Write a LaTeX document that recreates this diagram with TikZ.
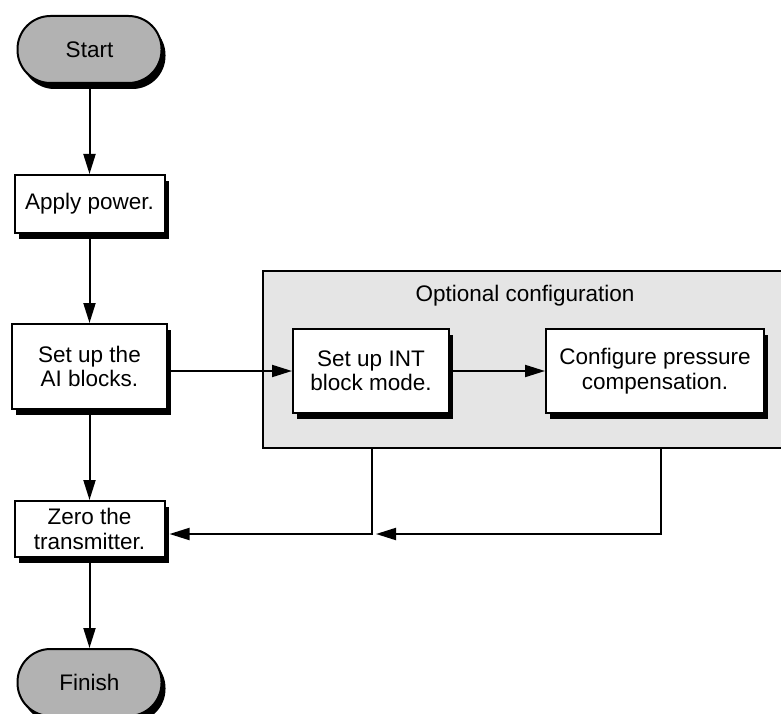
\documentclass[tikz,border=0pt]{standalone}
\usepackage{fontspec}
\setmainfont{Liberation Sans}
\usetikzlibrary{arrows.meta,shadows}
\definecolor{termgray}{gray}{0.70}
\definecolor{regiongray}{gray}{0.90}

\begin{document}
\begin{tikzpicture}[x=1pt,y=-1pt,
  every node/.style={font=\fontsize{22.5}{24.5}\selectfont, align=center, inner sep=0pt, line width=2pt},
  hardshadow/.style={drop shadow={shadow xshift=4pt, shadow yshift=-6pt, opacity=1, fill=black}},
  stepbox/.style={draw, fill=white, rectangle, hardshadow},
  terminal/.style={draw, fill=termgray, rectangle, rounded corners=33pt,
    minimum width=144pt, minimum height=67pt, hardshadow},
  region/.style={draw, fill=regiongray, rectangle},
  link/.style={line width=2pt},
  arr/.style={link, -{Triangle[length=20pt,width=12pt]}}]

\useasboundingbox (0,0) rectangle (781,714);
\clip (0,0) rectangle (781,714);

% main column
\node[terminal] (start) at (89.5,49.5) {Start};
\node[stepbox, minimum width=150pt, minimum height=58pt] (apply) at (89.5,204) {Apply power.};
\node[stepbox, minimum width=155pt, minimum height=85pt] (setup) at (89.5,366.5) {Set up the\\AI blocks.};
\node[stepbox, minimum width=150pt, minimum height=56pt] (zero) at (89.5,529) {Zero the\\transmitter.};
\node[terminal] (finish) at (89.5,682.5) {Finish};

% optional configuration group
\node[region, anchor=north west, minimum width=540pt, minimum height=177pt] (opt) at (262,270) {};
\node (optlabel) at (525,296) {Optional configuration};
\node[stepbox, minimum width=156pt, minimum height=84pt] (int) at (371,371) {Set up INT\\block mode.};
\node[stepbox, minimum width=218pt, minimum height=84pt] (comp) at (655,371) {Configure pressure\\compensation.};

% return paths below the group
\coordinate (out1) at ([xshift=110pt]opt.south west);
\coordinate (out2) at ([xshift=399pt]opt.south west);
\coordinate (bend1) at (372,534);
\coordinate (bend2) at (661,534);

% connectors
\draw[arr] (start.south) -- (apply.north);
\draw[arr] (apply.south) -- (setup.north);
\draw[arr] (setup.south) -- (zero.north);
\draw[arr] (zero.south) -- (finish.north);
\draw[arr] (setup.east |- int.west) -- (int.west);
\draw[arr] (int.east) -- (comp.west);
\draw[arr] (out1) -- (bend1) -- ([xshift=4pt]zero.east |- bend1);
\draw[arr] (out2) -- (bend2) -- ([xshift=4pt]bend1);
\end{tikzpicture}
\end{document}
